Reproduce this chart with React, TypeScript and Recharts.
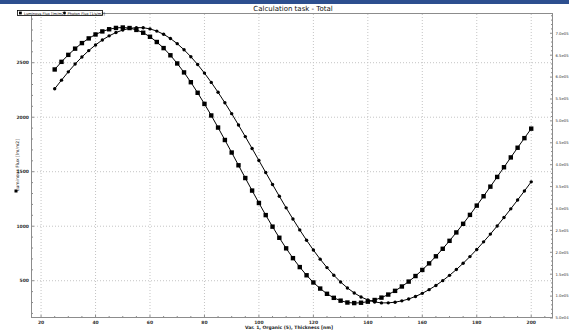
import { LineChart, Line, XAxis, YAxis, ReferenceLine } from 'recharts';

// Var. 1, Organic (5), Thickness [nm]
const THICKNESS = [
  25, 27.5, 30, 32.5, 35, 37.5, 40, 42.5, 45, 47.5, 50, 52.5, 55, 57.5, 60, 62.5, 65, 67.5,
  70, 72.5, 75, 77.5, 80, 82.5, 85, 87.5, 90, 92.5, 95, 97.5, 100, 102.5, 105, 107.5, 110,
  112.5, 115, 117.5, 120, 122.5, 125, 127.5, 130, 132.5, 135, 137.5, 140, 142.5, 145, 147.5,
  150, 152.5, 155, 157.5, 160, 162.5, 165, 167.5, 170, 172.5, 175, 177.5, 180, 182.5, 185,
  187.5, 190, 192.5, 195, 197.5, 200,
];

// left axis, square markers
const LUMINOUS_FLUX = [
  2438, 2508, 2572, 2629, 2680, 2723, 2759, 2787, 2807, 2819, 2823, 2818, 2801, 2775, 2738,
  2690, 2634, 2568, 2493, 2411, 2321, 2224, 2122, 2016, 1905, 1791, 1676, 1559, 1442, 1327,
  1213, 1102, 996, 894, 797, 707, 625, 550, 484, 428, 380, 343, 317, 300, 295, 298, 308, 323,
  345, 373, 407, 447, 492, 543, 599, 659, 724, 793, 866, 943, 1022, 1104, 1189, 1275, 1363,
  1452, 1541, 1631, 1720, 1808, 1895,
];

// right axis, round markers
const PHOTON_FLUX = [
  573300, 593000, 612000, 629700, 645900, 660500, 673400, 684700, 694100, 701700, 707400,
  711200, 712900, 712700, 710000, 705000, 697700, 688100, 676300, 662400, 646500, 628600,
  609100, 587900, 565300, 541400, 516500, 490600, 464100, 437000, 409700, 382200, 354900,
  328000, 301500, 275900, 251100, 227500, 205100, 184300, 165100, 147600, 132100, 118600,
  107200, 98000, 91200, 86600, 84500, 84600, 86100, 89100, 93400, 99200, 106300, 114700,
  124300, 135300, 147400, 160600, 174900, 190200, 206500, 223800, 241500, 260100, 279400,
  299200, 319400, 339900, 360800,
];

const X_LABELS = [20, 40, 60, 80, 100, 120, 140, 160, 180, 200];
const LEFT_LABELS = [500, 1000, 1500, 2000, 2500];
const RIGHT_LABELS = [
  50000, 100000, 150000, 200000, 250000, 300000, 350000, 400000, 450000, 500000, 550000,
  600000, 650000, 700000,
];

const SERIES_NAMES = ['Luminous Flux [lm/m2]', 'Photon Flux [1/s/m2]'];

const W = 569;
const H = 330;
const PLOT_L = 31;
const PLOT_R = 553;
const PLOT_T = 13;
const PLOT_B = 318;
const FONT = 'DejaVu Sans, sans-serif';

// minor tick steps
const range = (from: number, to: number, step: number) => {
  const out: number[] = [];
  for (let v = from; v <= to; v += step) out.push(v);
  return out;
};
const xTicks = range(20, 205, 5);
const leftTicks = range(200, 2900, 100);
const rightTicks = range(50000, 740000, 10000);

const data = THICKNESS.map((t, i) => ({
  t,
  lum: LUMINOUS_FLUX[i],
  photon: PHOTON_FLUX[i],
}));

const fmtExp = (v: number) => {
  const e = Math.floor(Math.log10(v));
  const m = v / Math.pow(10, e);
  return `${m.toFixed(1)}e${String(e).padStart(2, '0')}`;
};

const XTick = (props: any) => {
  const { x, payload } = props;
  const major = X_LABELS.includes(payload.value);
  return (
    <g>
      <line x1={x} x2={x} y1={PLOT_B} y2={PLOT_B - (major ? 3 : 2)} stroke="#8c8c8c" />
      {major && (
        <text x={x} y={PLOT_B + 5.5} textAnchor="middle" fontSize={4.5} fontWeight="bold" fontFamily={FONT} fill="#333">
          {payload.value}
        </text>
      )}
    </g>
  );
};

const LeftTick = (props: any) => {
  const { y, payload } = props;
  const major = LEFT_LABELS.includes(payload.value);
  return (
    <g>
      <line x1={PLOT_L} x2={PLOT_L + (major ? 3 : 2)} y1={y} y2={y} stroke="#8c8c8c" />
      {major && (
        <text x={PLOT_L - 2} y={y + 1.6} textAnchor="end" fontSize={4.5} fontWeight="bold" fontFamily={FONT} fill="#333">
          {payload.value}
        </text>
      )}
    </g>
  );
};

const RightTick = (props: any) => {
  const { y, payload } = props;
  const major = RIGHT_LABELS.includes(payload.value);
  return (
    <g>
      <line x1={PLOT_R} x2={PLOT_R - (major ? 3 : 2)} y1={y} y2={y} stroke="#8c8c8c" />
      {major && (
        <text x={PLOT_R + 2.5} y={y + 1.4} textAnchor="start" fontSize={3.8} fontFamily={FONT} fill="#333">
          {fmtExp(payload.value)}
        </text>
      )}
    </g>
  );
};

const SquareDot = (props: any) => {
  const { cx, cy, index } = props;
  return <rect key={`sq-${index}`} x={cx - 2.2} y={cy - 2.2} width={4.4} height={4.4} fill="#000" />;
};

const RoundDot = (props: any) => {
  const { cx, cy, index } = props;
  return <circle key={`ci-${index}`} cx={cx} cy={cy} r={1.7} fill="#000" />;
};

export default function App() {
  return (
    <div style={{ position: 'absolute', left: 0, top: 0, width: W, height: H, background: '#fff' }}>
      <LineChart width={W} height={H} data={data} margin={{ top: PLOT_T, right: 0, bottom: 0, left: 0 }}>
        {X_LABELS.map((v) => (
          <ReferenceLine key={`gx-${v}`} x={v} yAxisId="left" stroke="#c4c4c4" strokeDasharray="1 2" />
        ))}
        {LEFT_LABELS.map((v) => (
          <ReferenceLine key={`gy-${v}`} y={v} yAxisId="left" stroke="#c4c4c4" strokeDasharray="1 2" />
        ))}
        <XAxis
          dataKey="t"
          type="number"
          domain={[16.3, 208]}
          ticks={xTicks}
          interval={0}
          height={12}
          axisLine={false}
          tickLine={false}
          tick={XTick}
          allowDataOverflow
        />
        <YAxis
          yAxisId="left"
          orientation="left"
          type="number"
          domain={[158, 2956]}
          ticks={leftTicks}
          interval={0}
          width={31}
          axisLine={false}
          tickLine={false}
          tick={LeftTick}
          allowDataOverflow
        />
        <YAxis
          yAxisId="right"
          orientation="right"
          type="number"
          domain={[50000, 746300]}
          ticks={rightTicks}
          interval={0}
          width={16}
          axisLine={false}
          tickLine={false}
          tick={RightTick}
          allowDataOverflow
        />
        <Line
          yAxisId="left"
          dataKey="lum"
          name={SERIES_NAMES[0]}
          stroke="#000"
          strokeWidth={1}
          dot={SquareDot}
          isAnimationActive={false}
        />
        <Line
          yAxisId="right"
          dataKey="photon"
          name={SERIES_NAMES[1]}
          stroke="#000"
          strokeWidth={1}
          dot={RoundDot}
          isAnimationActive={false}
        />
      </LineChart>

      {/* frame, title, legend, axis titles */}
      <svg
        width={W}
        height={H}
        style={{ position: 'absolute', left: 0, top: 0, pointerEvents: 'none' }}
      >
        <rect x={0} y={0} width={W} height={4} fill="#2d4f8f" />
        <rect
          x={PLOT_L + 0.5}
          y={PLOT_T + 0.5}
          width={PLOT_R - PLOT_L - 1}
          height={PLOT_B - PLOT_T - 1}
          fill="none"
          stroke="#8c8c8c"
        />
        <text x={293} y={11} textAnchor="middle" fontSize={7} fontFamily={FONT} fill="#111">
          Calculation task - Total
        </text>
        <g>
          <rect x={17.5} y={10.5} width={85} height={5} fill="#fff" stroke="#000" strokeWidth={0.8} />
          <rect x={19} y={11.6} width={2.8} height={2.8} fill="#000" />
          <text x={24} y={14.6} fontSize={3.6} fontFamily={FONT} fill="#000">
            {SERIES_NAMES[0]}
          </text>
          <circle cx={64.5} cy={13} r={1.4} fill="#000" />
          <text x={67.5} y={14.6} fontSize={3.6} fontFamily={FONT} fill="#000">
            {SERIES_NAMES[1]}
          </text>
        </g>
        <text
          x={0}
          y={0}
          transform="translate(18.5,165) rotate(-90)"
          textAnchor="middle"
          fontSize={4.5}
          fontFamily={FONT}
          fill="#222"
        >
          {SERIES_NAMES[0]}
        </text>
        <rect x={14.5} y={189.5} width={3} height={3} fill="#000" />
        <text x={289} y={328.5} textAnchor="middle" fontSize={4.5} fontWeight="bold" fontFamily={FONT} fill="#222">
          Var. 1, Organic (5), Thickness [nm]
        </text>
      </svg>
    </div>
  );
}
